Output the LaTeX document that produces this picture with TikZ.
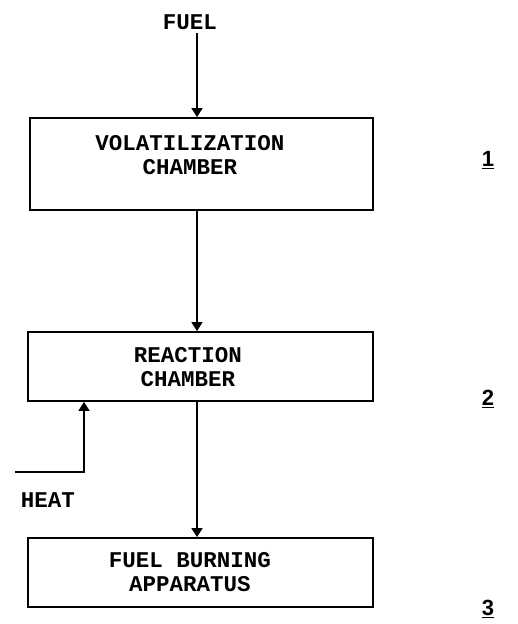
\documentclass[tikz,border=0pt]{standalone}
\usepackage{fontspec}
\setmainfont{Liberation Serif}
\newfontfamily\typew{Liberation Mono}
\newfontfamily\numf{Liberation Sans}
\usetikzlibrary{arrows.meta}
\begin{document}
\begin{tikzpicture}[x=1pt,y=-1pt,
  boxst/.style={draw,line width=1.8pt,rectangle,inner sep=0pt},
  txt/.style={font=\typew\bfseries\fontsize{22.5}{23.5}\selectfont,align=center,inner sep=0pt},
  numst/.style={font=\numf\bfseries\fontsize{22}{24}\selectfont,inner sep=0pt},
  conn/.style={line width=1.6pt,-{Triangle[length=9pt,width=11pt]}}]
\useasboundingbox (0,0) rectangle (517,624);
\node[boxst,minimum width=343pt,minimum height=92pt] (b1) at (201.5,164) {};
\node[boxst,minimum width=345pt,minimum height=69pt] (b2) at (200.5,366.5) {};
\node[boxst,minimum width=345pt,minimum height=69pt] (b3) at (200.5,572.5) {};
\node[txt] (t1) at (190,155) {VOLATILIZATION\\CHAMBER};
\node[txt] (t2) at (188,367) {REACTION\\CHAMBER};
\node[txt] (t3) at (190,572) {FUEL BURNING\\APPARATUS};
\node[txt] (fuel) at (190,22) {FUEL};
\node[txt] (heat) at (48,500) {HEAT};
\coordinate (fs) at (197,33);
\coordinate (hs) at (15,472);
\coordinate (hc) at (84,472);
\draw[conn] (fs) -- (fs |- b1.north);
\draw[conn] (b1.south -| fs) -- (fs |- b2.north);
\draw[conn] (b2.south -| fs) -- (fs |- b3.north);
\draw[conn] (hs) -- (hc) -- (hc |- b2.south);
\node[numst] (n1) at (488,160) {\underline{1}};
\node[numst] (n2) at (488,399) {\underline{2}};
\node[numst] (n3) at (488,609) {\underline{3}};
\end{tikzpicture}
\end{document}
